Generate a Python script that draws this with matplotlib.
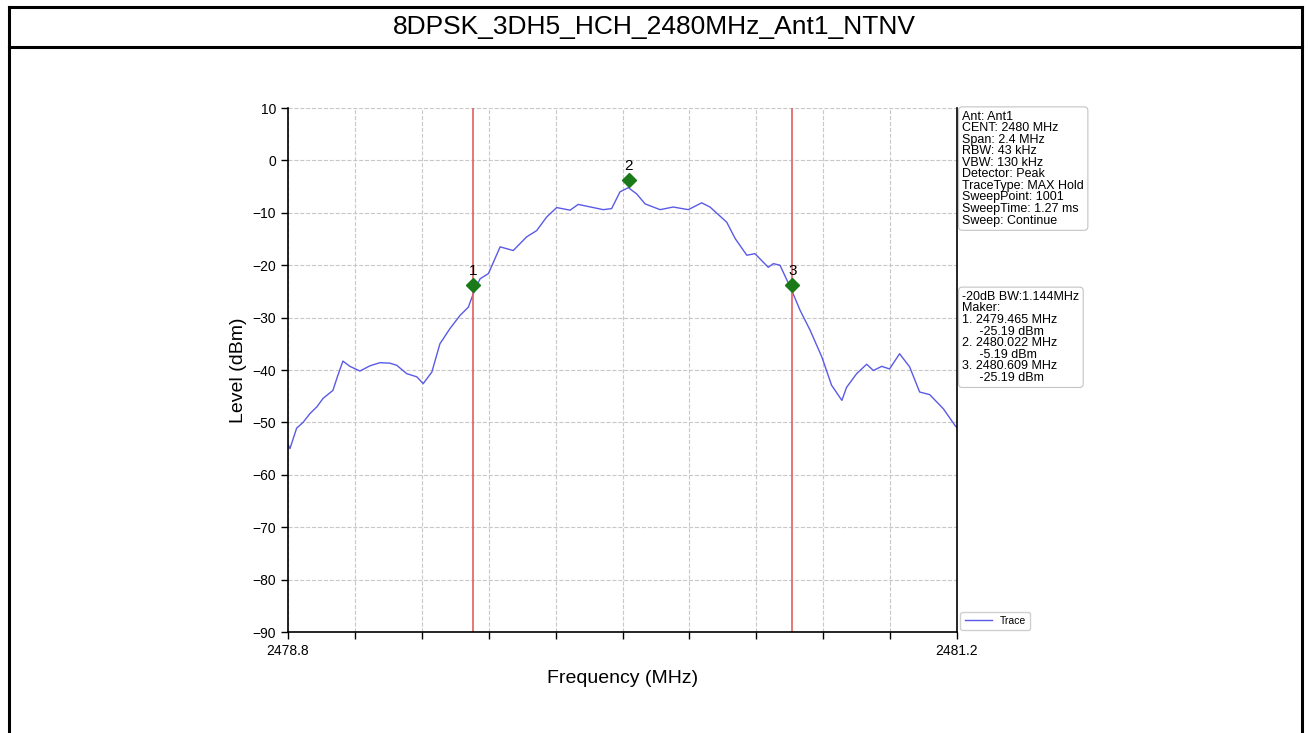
import numpy as np
import matplotlib
matplotlib.use("Agg")
import matplotlib.pyplot as plt
from matplotlib.lines import Line2D

plt.rcParams['font.family'] = ['Liberation Sans', 'DejaVu Sans']

# -------------------------------
# Data
# -------------------------------
title = "8DPSK_3DH5_HCH_2480MHz_Ant1_NTNV"

freq_mhz = [2478.800, 2478.807, 2478.831, 2478.854, 2478.879, 2478.904, 2478.926,
            2478.961, 2478.979, 2478.997, 2479.022, 2479.058, 2479.094, 2479.130,
            2479.166, 2479.190, 2479.226, 2479.262, 2479.285, 2479.316, 2479.345,
            2479.381, 2479.417, 2479.447, 2479.465, 2479.489, 2479.519, 2479.561,
            2479.608, 2479.656, 2479.692, 2479.728, 2479.764, 2479.812, 2479.841,
            2479.895, 2479.931, 2479.961, 2479.991, 2480.021, 2480.051, 2480.081,
            2480.135, 2480.182, 2480.236, 2480.284, 2480.314, 2480.374, 2480.404,
            2480.446, 2480.475, 2480.523, 2480.541, 2480.565, 2480.607, 2480.637,
            2480.673, 2480.715, 2480.750, 2480.787, 2480.804, 2480.840, 2480.876,
            2480.900, 2480.930, 2480.958, 2480.994, 2481.030, 2481.066, 2481.102,
            2481.151, 2481.193, 2481.200]

level_dbm = [-54.2, -55.0, -51.1, -50.0, -48.3, -47.0, -45.4,
             -43.9, -41.0, -38.3, -39.3, -40.2, -39.2, -38.6,
             -38.7, -39.1, -40.7, -41.3, -42.6, -40.4, -35.0,
             -32.1, -29.6, -28.0, -25.4, -22.6, -21.6, -16.5,
             -17.2, -14.6, -13.4, -10.8, -9.0, -9.5, -8.4,
             -9.0, -9.4, -9.2, -6.0, -5.2, -6.4, -8.3,
             -9.4, -8.9, -9.4, -8.1, -8.9, -11.8, -14.9,
             -18.1, -17.8, -20.4, -19.7, -20.0, -24.8, -28.6,
             -32.4, -37.5, -42.9, -45.8, -43.3, -40.7, -38.9,
             -40.1, -39.3, -39.8, -36.9, -39.4, -44.2, -44.7,
             -47.4, -50.6, -51.0]

marker_freqs = [2479.465, 2480.022, 2480.609]
marker_levels = [-25.19, -5.19, -25.19]
marker_names = ["1", "2", "3"]

f_start = 2478.8
f_stop = 2481.2

info_text = ("Ant: Ant1\nCENT: 2480 MHz\nSpan: 2.4 MHz\nRBW: 43 kHz\nVBW: 130 kHz\n"
             "Detector: Peak\nTraceType: MAX Hold\nSweepPoint: 1001\n"
             "SweepTime: 1.27 ms\nSweep: Continue")
marker_text = ("-20dB BW:1.144MHz\nMaker:\n1. 2479.465 MHz\n     -25.19 dBm\n"
               "2. 2480.022 MHz\n     -5.19 dBm\n3. 2480.609 MHz\n     -25.19 dBm")

# -------------------------------
# Figure
# -------------------------------
W, H = 1309, 733
fig = plt.figure(figsize=(W / 100, H / 100), dpi=100)

def px(x, y):
    return x / W, 1 - y / H

# outer frame with title row
frame = dict(color='black', lw=2.2, transform=fig.transFigure)
fig.add_artist(Line2D([px(9, 0)[0], px(9, 0)[0]], [0, px(0, 7)[1]], **frame))
fig.add_artist(Line2D([px(1302, 0)[0], px(1302, 0)[0]], [0, px(0, 7)[1]], **frame))
fig.add_artist(Line2D([px(9, 0)[0], px(1302, 0)[0]], [px(0, 7)[1], px(0, 7)[1]], **frame))
fig.add_artist(Line2D([px(9, 0)[0], px(1302, 0)[0]], [px(0, 47)[1], px(0, 47)[1]], **frame))
fig.text(0.5, px(0, 27)[1], title, ha='center', va='center', fontsize=19)

ax = fig.add_axes([288 / W, 1 - 632 / H, (957 - 288) / W, (632 - 108) / H])

ax.plot(freq_mhz, level_dbm, color='#5a5ae6', lw=1.0, label='Trace')

for f in (marker_freqs[0], marker_freqs[2]):
    ax.axvline(f, color='#e06060', lw=1.2)

for f, lv, name in zip(marker_freqs, marker_levels, marker_names):
    ax.plot(f, lv + 1.5, marker='D', color='#1a7a1a', markersize=7, ls='none')
    ax.text(f, lv + 2.8, name, ha='center', va='bottom', fontsize=11)

ax.set_xlim(f_start, f_stop)
ax.set_ylim(-90, 10)
xt = np.linspace(f_start, f_stop, 11)
ax.set_xticks(xt)
ax.set_xticklabels([f"{f_start:.1f}"] + [""] * 9 + [f"{f_stop:.1f}"])
ax.set_yticks(np.arange(-90, 11, 10))
ax.tick_params(direction='out', length=5, width=1, labelsize=10)
ax.grid(True, color='#c8c8c8', ls='--', lw=0.8)
ax.spines['top'].set_visible(False)
for s in ('left', 'bottom', 'right'):
    ax.spines[s].set_linewidth(1.2)

ax.set_xlabel("Frequency (MHz)", fontsize=14, labelpad=9)
ax.set_ylabel("Level (dBm)", fontsize=14, labelpad=4)

box = dict(boxstyle='round,pad=0.3', facecolor='white', edgecolor='#c4c4c4', lw=0.8)
ax.text(1.008, 0.995, info_text, transform=ax.transAxes, ha='left', va='top',
        fontsize=9, linespacing=0.95, bbox=box)
ax.text(1.008, 0.651, marker_text, transform=ax.transAxes, ha='left', va='top',
        fontsize=9, linespacing=0.95, bbox=box)

ax.legend(loc='lower left', bbox_to_anchor=(1.002, 0.0), fontsize=7.5,
          handlelength=2.6, borderaxespad=0.2, framealpha=1, edgecolor='#d0d0d0')

fig.savefig("out.png", dpi=100)
